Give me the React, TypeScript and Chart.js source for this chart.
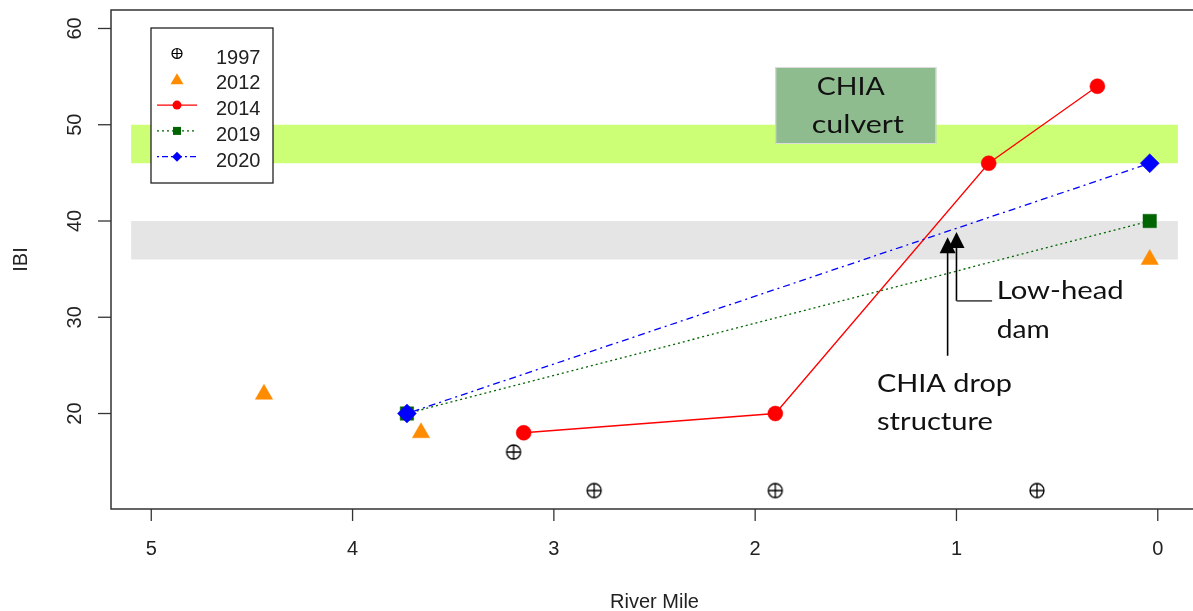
import React, { useEffect, useRef } from 'react';
import { Chart, registerables } from 'chart.js';

Chart.register(...registerables);

// ---- data (river mile, IBI score) ----
const mile1997 = [3.2, 2.8, 1.9, 0.6];
const ibi1997 = [16, 12, 12, 12];
const mile2012 = [4.44, 3.66, 0.04];
const ibi2012 = [22, 18, 36];
const mile2014 = [3.15, 1.9, 0.84, 0.3];
const ibi2014 = [18, 20, 46, 54];
const mile2019 = [3.73, 0.04];
const ibi2019 = [20, 40];
const mile2020 = [3.73, 0.04];
const ibi2020 = [20, 46];

const xTicks = [5, 4, 3, 2, 1, 0];
const yTicks = [20, 30, 40, 50, 60];
const legendLabels = ['1997', '2012', '2014', '2019', '2020'];

// reference bands (IBI ranges) and their mile extent
const goodBand = [46, 50];
const fairBand = [36, 40];
const bandMiles = [5.1, -0.1];

const xTitle = 'River Mile';
const yTitle = 'IBI';

const pts = (xs: number[], ys: number[]) => xs.map((x, i) => ({ x, y: ys[i] }));

const AXIS_FONT = '20px "Liberation Sans", Arial, sans-serif';
const NOTE_FONT = '25px Lato, "Open Sans", sans-serif';

function fitText(ctx: CanvasRenderingContext2D, text: string, x: number, y: number, w: number, align: CanvasTextAlign) {
  ctx.save();
  ctx.font = NOTE_FONT;
  const m = ctx.measureText(text).width;
  const s = w / m;
  ctx.translate(x, y);
  ctx.scale(s, 1);
  ctx.textAlign = align;
  ctx.textBaseline = 'alphabetic';
  ctx.fillText(text, 0, 0);
  ctx.restore();
}

function arrowUp(ctx: CanvasRenderingContext2D, x: number, yTop: number, yBottom: number) {
  ctx.save();
  ctx.strokeStyle = '#000';
  ctx.fillStyle = '#000';
  ctx.lineWidth = 1.6;
  ctx.beginPath();
  ctx.moveTo(x, yBottom);
  ctx.lineTo(x, yTop + 10);
  ctx.stroke();
  ctx.beginPath();
  ctx.moveTo(x, yTop);
  ctx.lineTo(x - 8, yTop + 16);
  ctx.lineTo(x + 8, yTop + 16);
  ctx.closePath();
  ctx.fill();
  ctx.restore();
}

export default function App() {
  const ref = useRef<HTMLCanvasElement>(null);

  useEffect(() => {
    const cross = document.createElement('canvas');
    cross.width = 18;
    cross.height = 18;
    const cc = cross.getContext('2d')!;
    cc.strokeStyle = '#000';
    cc.lineWidth = 1.3;
    cc.beginPath();
    cc.arc(9, 9, 7, 0, Math.PI * 2);
    cc.moveTo(2, 9);
    cc.lineTo(16, 9);
    cc.moveTo(9, 2);
    cc.lineTo(9, 16);
    cc.stroke();

    const decor = {
      id: 'decor',
      beforeDatasetsDraw(chart: any) {
        const ctx: CanvasRenderingContext2D = chart.ctx;
        const xs = chart.scales.x;
        const ys = chart.scales.y;
        const x0 = xs.getPixelForValue(bandMiles[0]);
        const x1 = xs.getPixelForValue(bandMiles[1]);
        ctx.save();
        ctx.fillStyle = '#CCFF75';
        const g0 = ys.getPixelForValue(goodBand[1]);
        const g1 = ys.getPixelForValue(goodBand[0]);
        ctx.fillRect(x0, g0, x1 - x0, g1 - g0);
        ctx.fillStyle = '#E5E5E5';
        const f0 = ys.getPixelForValue(fairBand[1]);
        const f1 = ys.getPixelForValue(fairBand[0]);
        ctx.fillRect(x0, f0, x1 - x0, f1 - f0);

        // CHIA culvert box
        const bx0 = xs.getPixelForValue(1.9);
        const bx1 = xs.getPixelForValue(1.1);
        const by0 = ys.getPixelForValue(56);
        const by1 = ys.getPixelForValue(48);
        ctx.fillStyle = '#8FBC8F';
        ctx.fillRect(bx0, by0, bx1 - bx0, by1 - by0);
        ctx.strokeStyle = '#DDDDDD';
        ctx.lineWidth = 1;
        ctx.strokeRect(bx0 + 0.5, by0 + 0.5, bx1 - bx0 - 1, by1 - by0 - 1);
        ctx.fillStyle = '#111';
        fitText(ctx, 'CHIA', xs.getPixelForValue(1.525), ys.getPixelForValue(53.1), 68, 'center');
        fitText(ctx, 'culvert', xs.getPixelForValue(1.49), ys.getPixelForValue(49.1), 92, 'center');
        ctx.restore();
      },
      afterDatasetsDraw(chart: any) {
        const ctx: CanvasRenderingContext2D = chart.ctx;
        const xs = chart.scales.x;
        const ys = chart.scales.y;
        const ca = chart.chartArea;

        // arrows
        arrowUp(ctx, xs.getPixelForValue(1.044), ys.getPixelForValue(38.3), ys.getPixelForValue(26.0));
        const lx = xs.getPixelForValue(1.0);
        const ly = ys.getPixelForValue(31.7);
        arrowUp(ctx, lx, ys.getPixelForValue(38.85), ly);
        ctx.save();
        ctx.strokeStyle = '#555';
        ctx.lineWidth = 1.6;
        ctx.beginPath();
        ctx.moveTo(lx, ly);
        ctx.lineTo(xs.getPixelForValue(0.823), ly);
        ctx.stroke();
        ctx.restore();

        ctx.save();
        ctx.fillStyle = '#111';
        fitText(ctx, 'Low-head', xs.getPixelForValue(0.8), ys.getPixelForValue(31.9), 127, 'left');
        fitText(ctx, 'dam', xs.getPixelForValue(0.8), ys.getPixelForValue(27.8), 53, 'left');
        fitText(ctx, 'CHIA drop', xs.getPixelForValue(1.395), ys.getPixelForValue(22.2), 135, 'left');
        fitText(ctx, 'structure', xs.getPixelForValue(1.395), ys.getPixelForValue(18.3), 116, 'left');
        ctx.restore();

        // axes box (right side lies beyond the visible picture)
        ctx.save();
        ctx.strokeStyle = '#333';
        ctx.lineWidth = 1.5;
        ctx.beginPath();
        ctx.moveTo(ca.right + 5, ca.top);
        ctx.lineTo(ca.left, ca.top);
        ctx.lineTo(ca.left, ca.bottom);
        ctx.lineTo(ca.right + 5, ca.bottom);
        ctx.stroke();

        ctx.fillStyle = '#222';
        ctx.font = AXIS_FONT;
        ctx.lineWidth = 1.3;
        // x ticks
        ctx.textAlign = 'center';
        ctx.textBaseline = 'alphabetic';
        xTicks.forEach((t) => {
          const px = xs.getPixelForValue(t);
          ctx.beginPath();
          ctx.moveTo(px, ca.bottom);
          ctx.lineTo(px, ca.bottom + 12);
          ctx.stroke();
          ctx.fillText(String(t), px, ca.bottom + 46);
        });
        ctx.fillText(xTitle, (ca.left + 1198) / 2, 608);
        // y ticks
        yTicks.forEach((t) => {
          const py = ys.getPixelForValue(t);
          ctx.beginPath();
          ctx.moveTo(ca.left - 13, py);
          ctx.lineTo(ca.left, py);
          ctx.stroke();
          ctx.save();
          ctx.translate(81, py);
          ctx.rotate(-Math.PI / 2);
          ctx.textAlign = 'center';
          ctx.fillText(String(t), 0, 0);
          ctx.restore();
        });
        ctx.save();
        ctx.translate(27, (ca.top + ca.bottom) / 2);
        ctx.rotate(-Math.PI / 2);
        ctx.textAlign = 'center';
        ctx.fillText(yTitle, 0, 0);
        ctx.restore();
        ctx.restore();

        // legend
        ctx.save();
        const lgX = 151, lgY = 28, lgW = 122, lgH = 155;
        ctx.fillStyle = '#fff';
        ctx.fillRect(lgX, lgY, lgW, lgH);
        ctx.strokeStyle = '#222';
        ctx.lineWidth = 1.3;
        ctx.strokeRect(lgX, lgY, lgW, lgH);
        const symX = 177;
        legendLabels.forEach((lab, i) => {
          const ry = 53.5 + i * 25.8;
          ctx.save();
          if (i >= 2) {
            const colors = ['#FF0000', '#006400', '#0000FF'];
            const dashes = [[], [2, 3], [2, 3, 6, 3]];
            ctx.strokeStyle = colors[i - 2];
            ctx.setLineDash(dashes[i - 2]);
            ctx.lineWidth = 1.3;
            ctx.beginPath();
            ctx.moveTo(157, ry);
            ctx.lineTo(197, ry);
            ctx.stroke();
            ctx.setLineDash([]);
          }
          ctx.beginPath();
          if (i === 0) {
            ctx.strokeStyle = '#000';
            ctx.lineWidth = 1.2;
            ctx.arc(symX, ry, 5, 0, Math.PI * 2);
            ctx.moveTo(symX - 5, ry);
            ctx.lineTo(symX + 5, ry);
            ctx.moveTo(symX, ry - 5);
            ctx.lineTo(symX, ry + 5);
            ctx.stroke();
          } else if (i === 1) {
            ctx.fillStyle = '#FF8C00';
            ctx.moveTo(symX, ry - 6);
            ctx.lineTo(symX + 6.5, ry + 5);
            ctx.lineTo(symX - 6.5, ry + 5);
            ctx.closePath();
            ctx.fill();
          } else if (i === 2) {
            ctx.fillStyle = '#FF0000';
            ctx.arc(symX, ry, 4.5, 0, Math.PI * 2);
            ctx.fill();
          } else if (i === 3) {
            ctx.fillStyle = '#006400';
            ctx.fillRect(symX - 4, ry - 4, 8, 8);
          } else {
            ctx.fillStyle = '#0000FF';
            ctx.moveTo(symX - 5, ry);
            ctx.lineTo(symX, ry - 5);
            ctx.lineTo(symX + 5, ry);
            ctx.lineTo(symX, ry + 5);
            ctx.closePath();
            ctx.fill();
          }
          ctx.restore();
          ctx.fillStyle = '#222';
          ctx.font = AXIS_FONT;
          ctx.textAlign = 'left';
          ctx.textBaseline = 'alphabetic';
          ctx.fillText(lab, 216, ry + 10);
        });
        ctx.restore();
      },
    };

    const chart = new Chart(ref.current!, {
      type: 'scatter',
      data: {
        datasets: [
          {
            label: '2020',
            data: pts(mile2020, ibi2020),
            showLine: true,
            borderColor: '#0000FF',
            backgroundColor: '#0000FF',
            borderWidth: 1.3,
            borderDash: [2, 4, 7, 4],
            pointStyle: 'rectRot',
            pointRadius: 9.5,
            pointBorderWidth: 0.5,
            order: 0,
          },
          {
            label: '2019',
            data: pts(mile2019, ibi2019),
            showLine: true,
            borderColor: '#006400',
            backgroundColor: '#006400',
            borderWidth: 1.3,
            borderDash: [2, 3],
            pointStyle: 'rect',
            pointRadius: 9.5,
            pointBorderWidth: 0.5,
            order: 1,
          },
          {
            label: '2014',
            data: pts(mile2014, ibi2014),
            showLine: true,
            borderColor: '#FF0000',
            backgroundColor: '#FF0000',
            borderWidth: 1.3,
            pointStyle: 'circle',
            pointRadius: 7.5,
            pointBorderWidth: 0.5,
            order: 2,
          },
          {
            label: '2012',
            data: pts(mile2012, ibi2012),
            showLine: false,
            borderColor: '#FF8C00',
            backgroundColor: '#FF8C00',
            pointStyle: 'triangle',
            pointRadius: 10,
            pointBorderWidth: 0.5,
            order: 3,
          },
          {
            label: '1997',
            data: pts(mile1997, ibi1997),
            showLine: false,
            borderColor: '#000',
            backgroundColor: 'transparent',
            pointStyle: cross as any,
            pointRadius: 9,
            order: 4,
          },
        ],
      },
      options: {
        animation: false,
        responsive: false,
        maintainAspectRatio: false,
        devicePixelRatio: 1,
        layout: { autoPadding: false, padding: { left: 111, top: 10, right: 0, bottom: 102 } },
        scales: {
          x: { type: 'linear', display: false, reverse: true, min: -0.175, max: 5.2 },
          y: { type: 'linear', display: false, min: 10.08, max: 61.92 },
        },
        plugins: {
          legend: { display: false },
          tooltip: { enabled: false },
        },
        events: [],
      },
      plugins: [decor],
    });
    return () => chart.destroy();
  }, []);

  return (
    <div
      style={{
        position: 'absolute',
        left: 0,
        top: 0,
        width: 1193,
        height: 611,
        overflow: 'hidden',
        background: '#fff',
      }}
    >
      <canvas ref={ref} width={1193} height={611} style={{ display: 'block', width: 1193, height: 611 }} />
    </div>
  );
}
